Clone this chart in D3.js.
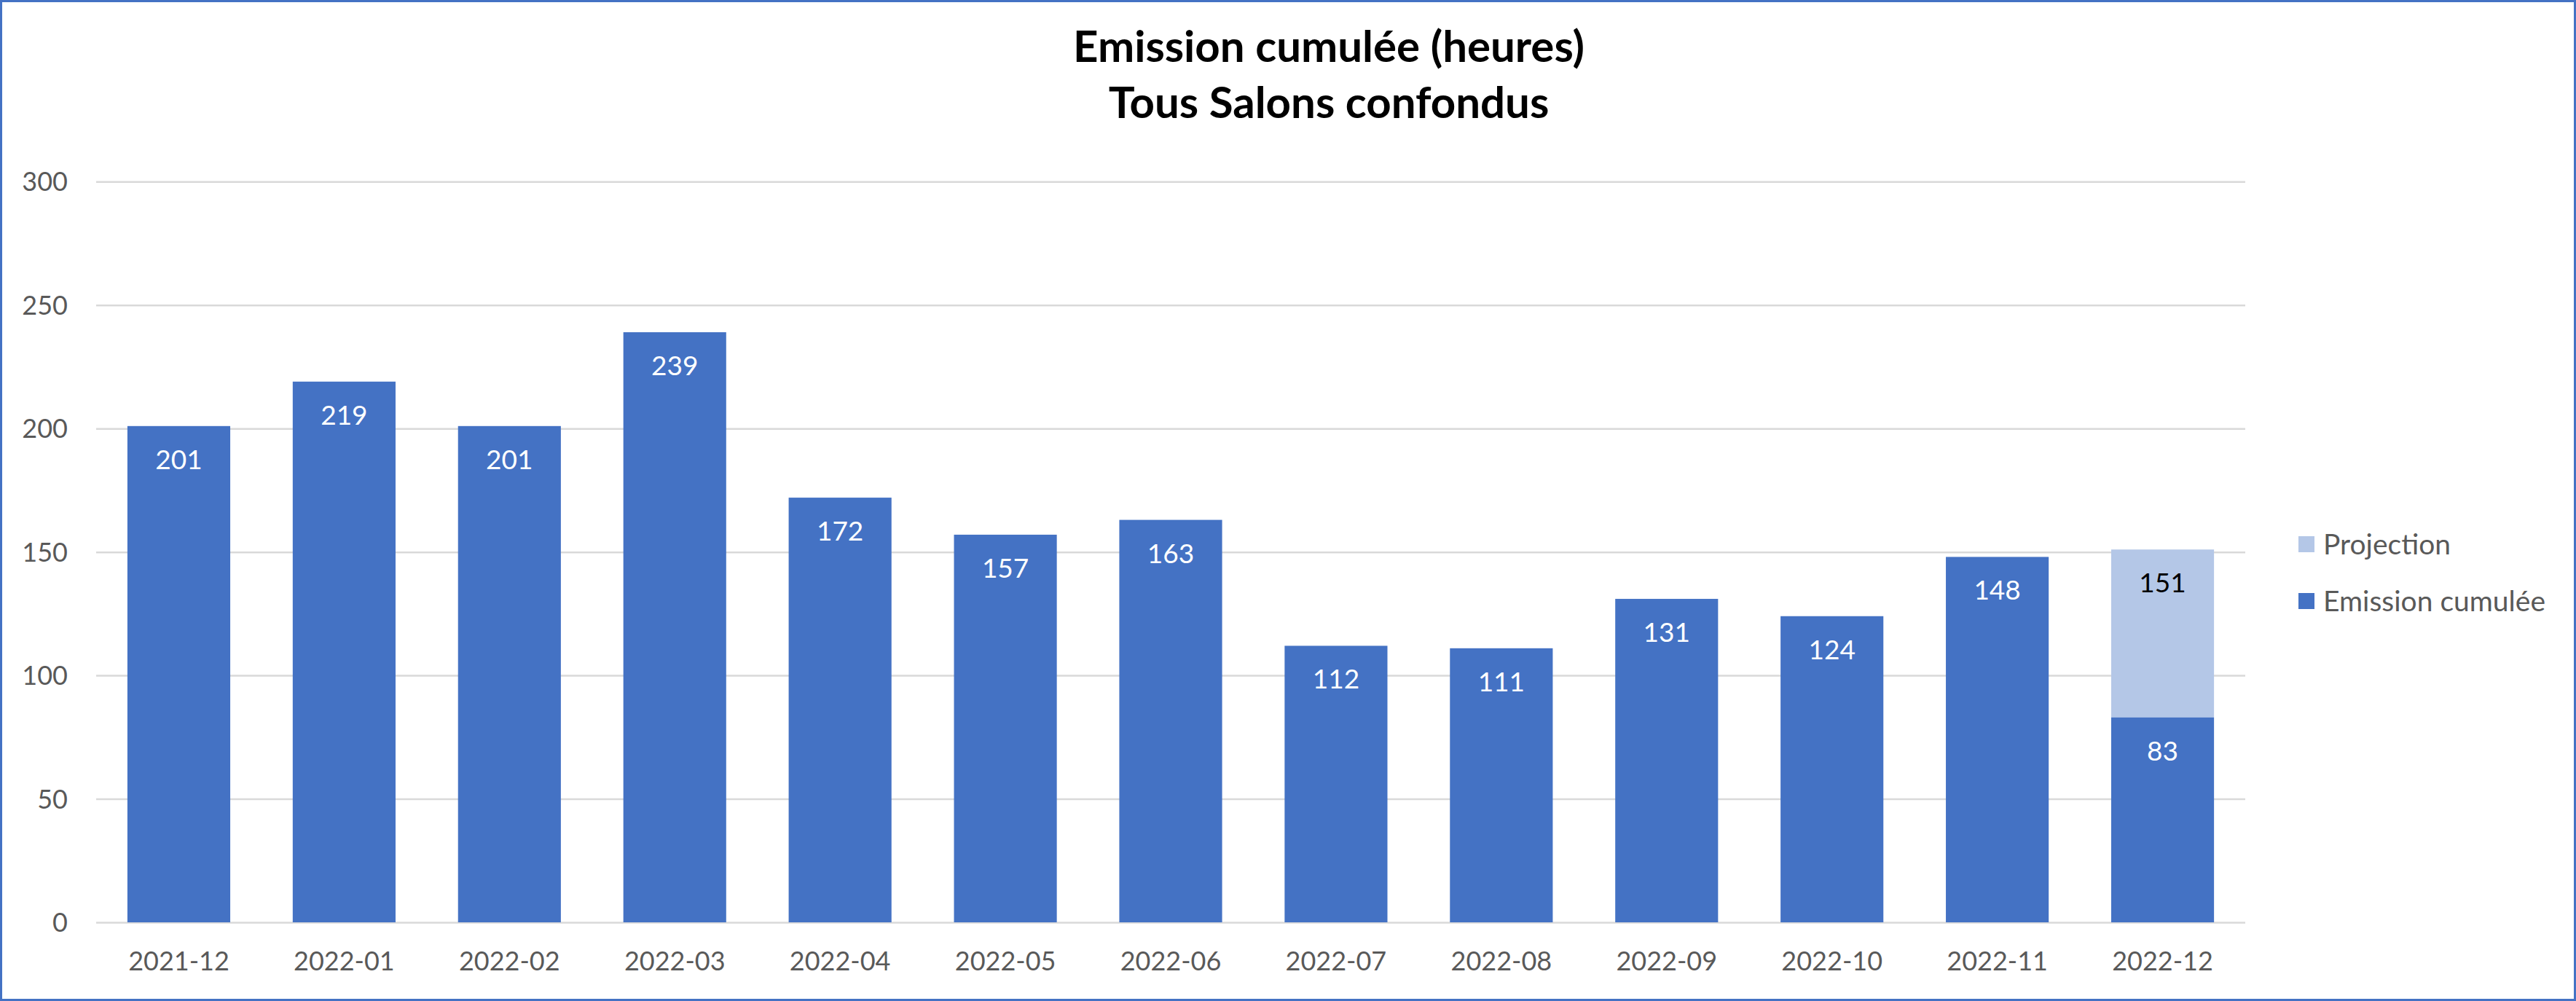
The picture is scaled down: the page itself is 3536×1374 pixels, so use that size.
<!DOCTYPE html>
<html>
<head>
<meta charset="utf-8">
<script src="https://cdn.jsdelivr.net/npm/d3@7"></script>
<style>
  html, body { margin: 0; padding: 0; background: #fff; }
  svg { display: block; }
  text { font-family: Lato, "Noto Sans", sans-serif; }
</style>
</head>
<body>
<svg id="chart" width="3536" height="1374"></svg>
<script>
// ---- data ----
const categories = ["2021-12","2022-01","2022-02","2022-03","2022-04","2022-05","2022-06","2022-07","2022-08","2022-09","2022-10","2022-11","2022-12"];
const emission = [201, 219, 201, 239, 172, 157, 163, 112, 111, 131, 124, 148, 83];
const projection = [null, null, null, null, null, null, null, null, null, null, null, null, 151]; // projected total
const yTicks = [0, 50, 100, 150, 200, 250, 300];
const titleLines = ["Emission cumulée (heures)", "Tous Salons confondus"];
const legendLabels = ["Projection", "Emission cumulée"];

// ---- layout ----
const W = 3536, H = 1374;
const plot = { left: 132, right: 3082, top: 249.3, bottom: 1266 };
const colEmission = "#4472C4", colProjection = "#B4C7E7";
const textGrey = "#595959";

const svg = d3.select("#chart");

// border
svg.append("rect").attr("x", 1.5).attr("y", 1.5).attr("width", W - 3).attr("height", H - 3)
  .attr("fill", "#fff").attr("stroke", "#4472C4").attr("stroke-width", 3);

const x = d3.scaleBand().domain(categories).range([plot.left, plot.right]).paddingInner(0.378).paddingOuter(0.189);
const y = d3.scaleLinear().domain([0, 300]).range([plot.bottom, plot.top]);

// gridlines
const yAxis = d3.axisLeft(y).tickValues(yTicks).tickSize(-(plot.right - plot.left)).tickPadding(39);
const gy = svg.append("g").attr("transform", `translate(${plot.left},0)`).call(yAxis);
gy.select(".domain").remove();
gy.selectAll(".tick line").attr("stroke", "#D9D9D9").attr("stroke-width", 2.5);
gy.selectAll(".tick text").attr("fill", textGrey).attr("font-size", 36).attr("font-family", "Lato").attr("dy", "0.35em");

// x axis
const xAxis = d3.axisBottom(x).tickSize(0).tickPadding(40);
const gx = svg.append("g").attr("transform", `translate(0,${plot.bottom})`).call(xAxis);
gx.select(".domain").remove();
gx.selectAll(".tick text").attr("fill", textGrey).attr("font-size", 36).attr("font-family", "Lato").attr("dy", "0.71em");

const data = categories.map((c, i) => ({ c, e: emission[i], p: projection[i] }));

// projection segments (stacked above emission)
svg.append("g").selectAll("rect").data(data.filter(d => d.p != null)).join("rect")
  .attr("x", d => x(d.c)).attr("width", x.bandwidth())
  .attr("y", d => y(d.p)).attr("height", d => y(d.e) - y(d.p))
  .attr("fill", colProjection);

// emission bars
svg.append("g").selectAll("rect").data(data).join("rect")
  .attr("x", d => x(d.c)).attr("width", x.bandwidth())
  .attr("y", d => y(d.e)).attr("height", d => y(0) - y(d.e))
  .attr("fill", colEmission);

// labels
svg.append("g").selectAll("text").data(data).join("text")
  .attr("x", d => x(d.c) + x.bandwidth() / 2).attr("y", d => y(d.e) + 59)
  .attr("text-anchor", "middle").attr("fill", "#fff").attr("font-size", 37)
  .text(d => d.e);
svg.append("g").selectAll("text").data(data.filter(d => d.p != null)).join("text")
  .attr("x", d => x(d.c) + x.bandwidth() / 2).attr("y", d => y(d.p) + 59)
  .attr("text-anchor", "middle").attr("fill", "#000").attr("font-size", 37)
  .text(d => d.p);

// title
svg.append("g").selectAll("text").data(titleLines).join("text")
  .attr("x", 1824).attr("y", (d, i) => 85 + i * 77)
  .attr("text-anchor", "middle").attr("font-weight", "bold").attr("font-size", 60).attr("fill", "#000")
  .text(d => d);

// legend
const legCols = [colProjection, colEmission];
const lg = svg.append("g").selectAll("g").data(legendLabels).join("g")
  .attr("transform", (d, i) => `translate(3155,${747 + i * 78})`);
lg.append("rect").attr("x", 0).attr("y", -11).attr("width", 22).attr("height", 22).attr("fill", (d, i) => legCols[i]);
lg.append("text").attr("x", 34).attr("y", 0).attr("dy", "0.35em").attr("fill", textGrey).attr("font-size", 39).text(d => d);
</script>
</body>
</html>
